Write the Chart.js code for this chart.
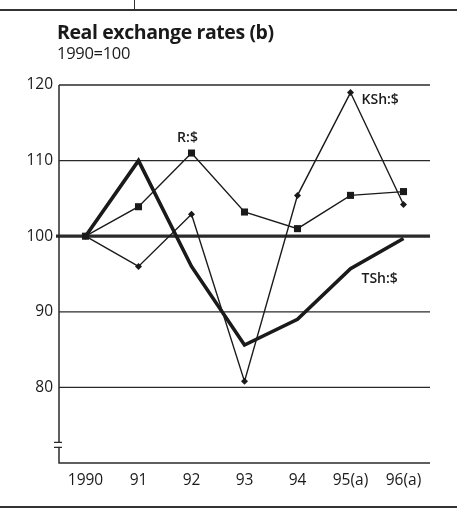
<!DOCTYPE html>
<html><head><meta charset="utf-8">
<script src="https://cdn.jsdelivr.net/npm/chart.js@4.4.1/dist/chart.umd.min.js"></script>
<style>
html,body{margin:0;padding:0;background:#fff;}
#wrap{position:relative;width:457px;height:508px;overflow:hidden;font-family:"Open Sans","Noto Sans",sans-serif;color:#1a1a1a;}
#c{position:absolute;left:0;top:0;}
.hl{position:absolute;background:#333;}
#title{position:absolute;left:57px;top:22px;font-weight:700;font-size:19.5px;line-height:1;letter-spacing:-0.4px;white-space:nowrap;}
#sub{position:absolute;left:57px;top:45px;font-size:16.5px;line-height:1;letter-spacing:-0.3px;white-space:nowrap;}
</style></head>
<body><div id="wrap">
<canvas id="c" width="457" height="508"></canvas>
<div class="hl" style="left:0;top:9px;width:457px;height:1.5px"></div>
<div class="hl" style="left:134px;top:0;width:1.2px;height:10px"></div>
<div class="hl" style="left:0;top:506px;width:457px;height:1.5px"></div>
<div id="title">Real exchange rates (b)</div>
<div id="sub">1990=100</div>
</div>
<script>
const categories = ["1990","91","92","93","94","95(a)","96(a)"];
const rUsd   = [100, 103.9, 111.0, 103.2, 101.0, 105.4, 105.9];
const kshUsd = [100, 96.0, 102.9, 80.8, 105.4, 119.0, 104.2];
const tshUsd = [100, 110.0, 96.0, 85.6, 89.0, 95.7, 99.7];
const yTicks = [80, 90, 100, 110, 120];
const seriesNames = ["R:$", "KSh:$", "TSh:$"];
const FONT = '"Open Sans", "Noto Sans", sans-serif';

const labelPlugin = {
  id: 'labels',
  afterDatasetsDraw(chart) {
    const ctx = chart.ctx, x = chart.scales.x, y = chart.scales.y;
    ctx.save();
    ctx.fillStyle = '#1a1a1a';
    ctx.font = '600 14px ' + FONT;
    ctx.textBaseline = 'middle';
    ctx.textAlign = 'center';
    ctx.fillText(seriesNames[0], x.getPixelForValue(2) - 4, y.getPixelForValue(rUsd[2]) - 15);
    ctx.textAlign = 'left';
    ctx.fillText(seriesNames[1], x.getPixelForValue(5) + 11, y.getPixelForValue(kshUsd[5]) + 7);
    ctx.fillText(seriesNames[2], x.getPixelForValue(5) + 11, y.getPixelForValue(tshUsd[5]) + 10);
    ctx.restore();
  }
};
const gridPlugin = {
  id: 'grid',
  beforeDatasetsDraw(chart) {
    const ctx = chart.ctx, a = chart.chartArea, y = chart.scales.y;
    ctx.save();
    ctx.strokeStyle = '#2a2a2a';
    yTicks.forEach(v => {
      const py = y.getPixelForValue(v);
      ctx.lineWidth = v === 100 ? 3.2 : 1.3;
      ctx.beginPath();
      ctx.moveTo(v === 100 ? a.left - 3 : a.left, py);
      ctx.lineTo(a.right, py);
      ctx.stroke();
    });
    ctx.lineWidth = 1.5;
    ctx.beginPath();
    ctx.moveTo(a.left, a.top); ctx.lineTo(a.left, a.bottom); ctx.lineTo(a.right, a.bottom);
    ctx.stroke();
    const bY = y.getPixelForValue(72.4);
    ctx.fillStyle = '#fff';
    ctx.fillRect(a.left - 2, bY - 2, 4, 4);
    ctx.lineWidth = 1.2;
    ctx.beginPath();
    ctx.moveTo(a.left - 5, bY - 2.5); ctx.lineTo(a.left + 3, bY - 2.5);
    ctx.moveTo(a.left - 5, bY + 2.5); ctx.lineTo(a.left + 3, bY + 2.5);
    ctx.stroke();
    ctx.restore();
  }
};

new Chart(document.getElementById('c'), {
  type: 'line',
  data: {
    labels: categories,
    datasets: [
      { label: seriesNames[2], data: tshUsd, borderColor: '#1a1a1a', borderWidth: 3.6, pointRadius: 0, tension: 0, borderJoinStyle: 'miter' },
      { label: seriesNames[0], data: rUsd, borderColor: '#1a1a1a', borderWidth: 1.4, pointStyle: 'rect', pointRadius: 5, pointBackgroundColor: '#1a1a1a', pointBorderColor: '#1a1a1a', pointBorderWidth: 0, tension: 0 },
      { label: seriesNames[1], data: kshUsd, borderColor: '#1a1a1a', borderWidth: 1.4, pointStyle: 'rectRot', pointRadius: 3.5, pointBackgroundColor: '#1a1a1a', pointBorderColor: '#1a1a1a', pointBorderWidth: 0, tension: 0 }
    ]
  },
  options: {
    responsive: false,
    animation: false,
    devicePixelRatio: 1,
    layout: { padding: { top: 85, right: 27, left: 0, bottom: 0 } },
    plugins: { legend: { display: false }, tooltip: { enabled: false } },
    scales: {
      x: {
        offset: true,
        grid: { display: false, drawTicks: false },
        border: { display: false },
        ticks: { color: '#1a1a1a', font: { family: FONT, size: 15.5 }, padding: 8, maxRotation: 0, autoSkip: false },
        afterFit(s) { s.height = 45; }
      },
      y: {
        min: 70, max: 120,
        afterBuildTicks(s) { s.ticks = yTicks.map(v => ({ value: v })); },
        grid: { display: false, drawTicks: false },
        border: { display: false },
        ticks: { color: '#1a1a1a', font: { family: FONT, size: 15.5 }, padding: 6 },
        afterFit(s) { s.width = 59; }
      }
    }
  },
  plugins: [gridPlugin, labelPlugin]
});
</script>
</body></html>
